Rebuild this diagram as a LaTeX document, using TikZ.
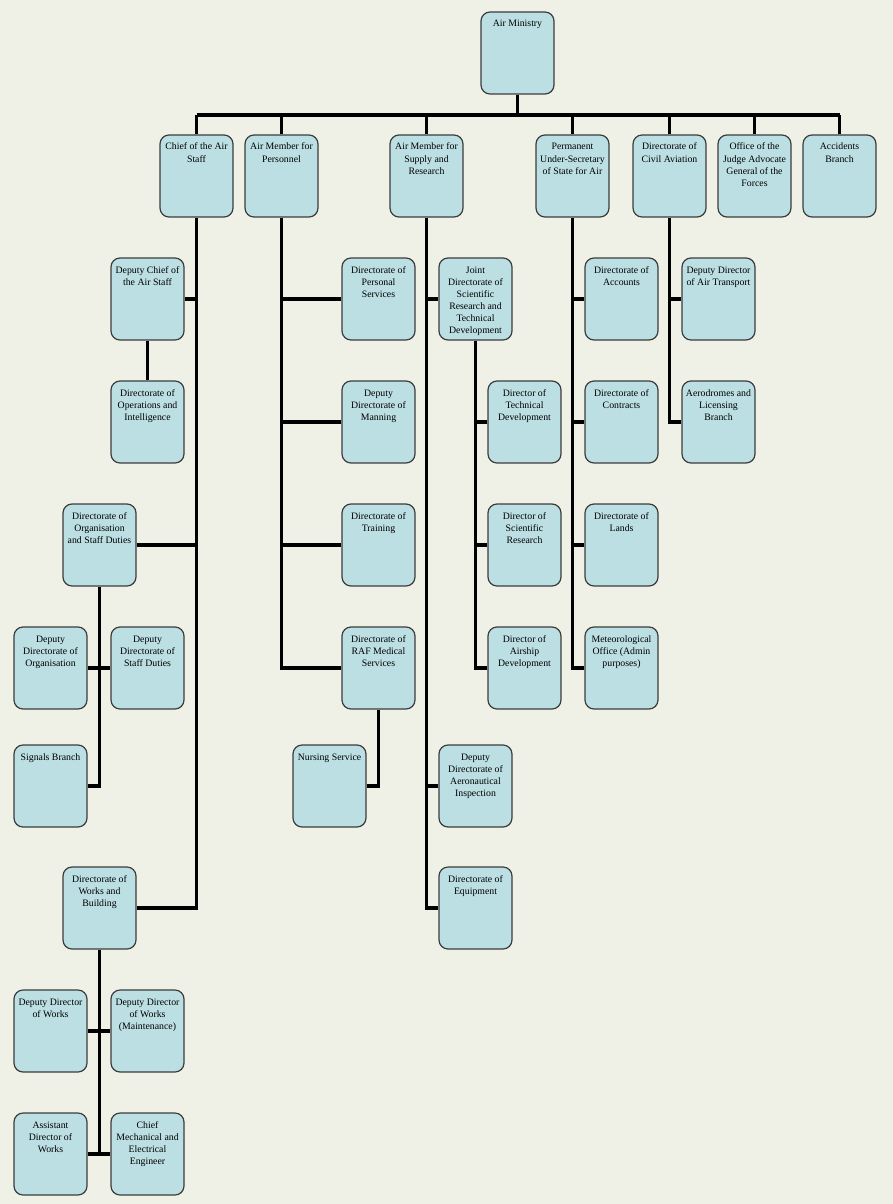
\documentclass[tikz,border=0pt]{standalone}
\usepackage{fontspec}
\setmainfont{Liberation Serif}
\usetikzlibrary{backgrounds}
\definecolor{bgc}{HTML}{EFF1E7}
\definecolor{boxfill}{HTML}{BCDFE3}
\definecolor{boxline}{HTML}{3C3C3C}
\newcommand{\bt}[1]{\parbox[c][82pt][t]{73pt}{\centering\rule{0pt}{15pt}#1}}
\tikzset{
  box/.style={draw=boxline, fill=boxfill, line width=1.2pt, rounded corners=9pt,
    inner sep=0pt, minimum width=73pt, minimum height=82pt,
    font=\fontsize{9.8pt}{12pt}\selectfont},
  conn/.style={draw=black, line width=3.2pt}
}
\begin{document}
\begin{tikzpicture}[x=1pt,y=-1pt]
\useasboundingbox (0,0) rectangle (893,1204);
% top
\node[box] (am) at (517.5,53) {\bt{Air Ministry}};
\node[box] (cas) at (196.5,176) {\bt{Chief of the Air\\Staff}};
\node[box] (amp) at (281.5,176) {\bt{Air Member for\\Personnel}};
\node[box] (amsr) at (426.5,176) {\bt{Air Member for\\Supply and\\Research}};
\node[box] (pus) at (572.5,176) {\bt{Permanent\\Under-Secretary\\of State for Air}};
\node[box] (dca) at (669.5,176) {\bt{Directorate of\\Civil Aviation}};
\node[box] (ojag) at (754.5,176) {\bt{Office of the\\Judge Advocate\\General of the\\Forces}};
\node[box] (ab) at (839.5,176) {\bt{Accidents\\Branch}};
% CAS branch
\node[box] (dcas) at (147.5,299) {\bt{Deputy Chief of\\the Air Staff}};
\node[box] (dopi) at (147.5,422) {\bt{Directorate of\\Operations and\\Intelligence}};
\node[box] (dosd) at (99.5,545) {\bt{Directorate of\\Organisation\\and Staff Duties}};
\node[box] (ddo) at (50.5,668) {\bt{Deputy\\Directorate of\\Organisation}};
\node[box] (ddsd) at (147.5,668) {\bt{Deputy\\Directorate of\\Staff Duties}};
\node[box] (sig) at (50.5,786) {\bt{Signals Branch}};
\node[box] (dwb) at (99.5,908) {\bt{Directorate of\\Works and\\Building}};
\node[box] (ddw) at (50.5,1031) {\bt{Deputy Director\\of Works}};
\node[box] (ddwm) at (147.5,1031) {\bt{Deputy Director\\of Works\\(Maintenance)}};
\node[box] (adw) at (50.5,1154) {\bt{Assistant\\Director of\\Works}};
\node[box] (cmee) at (147.5,1154) {\bt{Chief\\Mechanical and\\Electrical\\Engineer}};
% Personnel branch
\node[box] (dps) at (378.5,299) {\bt{Directorate of\\Personal\\Services}};
\node[box] (ddm) at (378.5,422) {\bt{Deputy\\Directorate of\\Manning}};
\node[box] (dtr) at (378.5,545) {\bt{Directorate of\\Training}};
\node[box] (med) at (378.5,668) {\bt{Directorate of\\RAF Medical\\Services}};
\node[box] (nurs) at (329.5,786) {\bt{Nursing Service}};
% Supply branch
\node[box] (joint) at (475.5,299) {\bt{Joint\\Directorate of\\Scientific\\Research and\\Technical\\Development}};
\node[box] (dtd) at (524.5,422) {\bt{Director of\\Technical\\Development}};
\node[box] (dsr) at (524.5,545) {\bt{Director of\\Scientific\\Research}};
\node[box] (dad) at (524.5,668) {\bt{Director of\\Airship\\Development}};
\node[box] (ddai) at (475.5,786) {\bt{Deputy\\Directorate of\\Aeronautical\\Inspection}};
\node[box] (equip) at (475.5,908) {\bt{Directorate of\\Equipment}};
% PUS branch
\node[box] (acc) at (621.5,299) {\bt{Directorate of\\Accounts}};
\node[box] (con) at (621.5,422) {\bt{Directorate of\\Contracts}};
\node[box] (lands) at (621.5,545) {\bt{Directorate of\\Lands}};
\node[box] (met) at (621.5,668) {\bt{Meteorological\\Office (Admin\\purposes)}};
% DCA branch
\node[box] (ddat) at (718.5,299) {\bt{Deputy Director\\of Air Transport}};
\node[box] (aero) at (718.5,422) {\bt{Aerodromes and\\Licensing\\Branch}};
\coordinate (bus) at (0,115);
\begin{scope}[on background layer]
\fill[bgc] (0,0) rectangle (893,1204);
% top bus
\draw[conn] (am.south) -- (am.south|-bus);
\draw[conn] (cas.north|-bus) -- (ab.north|-bus);
\foreach \n in {cas,amp,amsr,pus,dca,ojag,ab} \draw[conn] (\n.north) -- (\n.north|-bus);
% CAS
\draw[conn] (cas.south) |- (dwb.east);
\draw[conn] (dcas.east) -- (dcas.east-|cas.south);
\draw[conn] (dosd.east) -- (dosd.east-|cas.south);
\draw[conn] (dcas.south) -- (dopi.north);
\draw[conn] (dosd.south) |- (sig.east);
\draw[conn] (ddo.east) -- (ddsd.west);
\draw[conn] (dwb.south) -- (dwb.south|-adw.east);
\draw[conn] (ddw.east) -- (ddwm.west);
\draw[conn] (adw.east) -- (cmee.west);
% Personnel
\draw[conn] (amp.south) |- (med.west);
\foreach \n in {dps,ddm,dtr} \draw[conn] (\n.west) -- (\n.west-|amp.south);
\draw[conn] (med.south) |- (nurs.east);
% Supply
\draw[conn] (amsr.south) |- (equip.west);
\foreach \n in {joint,ddai} \draw[conn] (\n.west) -- (\n.west-|amsr.south);
\draw[conn] (joint.south) |- (dad.west);
\foreach \n in {dtd,dsr} \draw[conn] (\n.west) -- (\n.west-|joint.south);
% PUS
\draw[conn] (pus.south) |- (met.west);
\foreach \n in {acc,con,lands} \draw[conn] (\n.west) -- (\n.west-|pus.south);
% DCA
\draw[conn] (dca.south) |- (aero.west);
\draw[conn] (ddat.west) -- (ddat.west-|dca.south);
\end{scope}
\end{tikzpicture}
\end{document}
